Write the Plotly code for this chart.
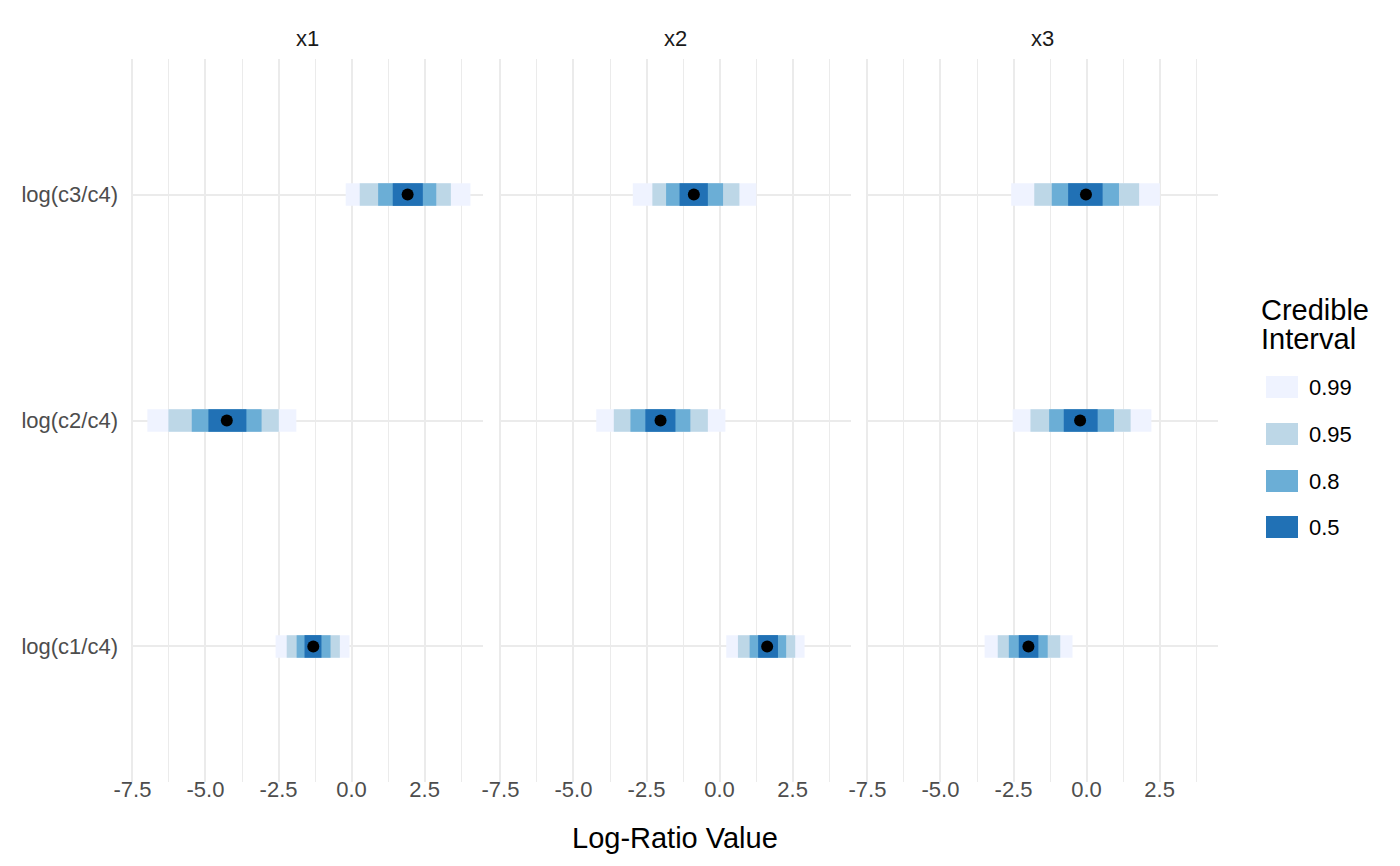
import plotly.graph_objects as go

# ---------------- data ----------------
panels = ["x1", "x2", "x3"]
categories = ["log(c1/c4)", "log(c2/c4)", "log(c3/c4)"]
levels = ["0.99", "0.95", "0.8", "0.5"]
level_colors = ["#EFF3FF", "#BDD7E7", "#6BAED6", "#2171B5"]
x_ticks = [-7.5, -5.0, -2.5, 0.0, 2.5]
x_tick_text = ["-7.5", "-5.0", "-2.5", "0.0", "2.5"]

median_x1 = [-1.31, -4.27, 1.92]
median_x2 = [1.63, -2.02, -0.88]
median_x3 = [-1.99, -0.22, -0.02]

# lower / upper bounds per level, order of categories: c1, c2, c3
lower_x1 = {"0.99": [-2.60, -6.99, -0.20], "0.95": [-2.22, -6.27, 0.28],
            "0.8": [-1.88, -5.47, 0.91], "0.5": [-1.61, -4.90, 1.41]}
upper_x1 = {"0.99": [-0.07, -1.89, 4.07], "0.95": [-0.40, -2.49, 3.40],
            "0.8": [-0.72, -3.08, 2.90], "0.5": [-1.03, -3.60, 2.44]}
lower_x2 = {"0.99": [0.23, -4.22, -2.97], "0.95": [0.63, -3.62, -2.30],
            "0.8": [1.03, -3.05, -1.83], "0.5": [1.32, -2.54, -1.37]}
upper_x2 = {"0.99": [2.91, 0.20, 1.26], "0.95": [2.59, -0.40, 0.68],
            "0.8": [2.28, -1.00, 0.12], "0.5": [2.00, -1.51, -0.40]}
lower_x3 = {"0.99": [-3.49, -2.53, -2.58], "0.95": [-3.04, -1.92, -1.79],
            "0.8": [-2.66, -1.28, -1.19], "0.5": [-2.32, -0.78, -0.63]}
upper_x3 = {"0.99": [-0.48, 2.22, 2.51], "0.95": [-0.90, 1.51, 1.80],
            "0.8": [-1.33, 0.94, 1.11], "0.5": [-1.65, 0.38, 0.55]}

medians = [median_x1, median_x2, median_x3]
lowers = [lower_x1, lower_x2, lower_x3]
uppers = [upper_x1, upper_x2, upper_x3]

# ---------------- layout helpers ----------------
W, H = 1400, 866
FONT = "Liberation Sans, Arial, Helvetica, sans-serif"
GRID = "#EBEBEB"
SMALL = 22
LARGE = 29

def px(x):
    return x / W

def py(y):
    return 1 - y / H

panel_px = [(131, 483), (499, 851), (866, 1218)]
y_top, y_bot = 59, 782
y_pos = [1, 2, 3]

fig = go.Figure()

for i, p in enumerate(panels):
    xa = "x" if i == 0 else f"x{i+1}"
    ya = "y" if i == 0 else f"y{i+1}"
    for lev, col in zip(levels, level_colors):
        lo = lowers[i][lev]
        hi = uppers[i][lev]
        fig.add_trace(go.Bar(
            x=[h - l for l, h in zip(lo, hi)], base=lo, y=y_pos,
            orientation="h", width=0.1, marker=dict(color=col, line=dict(width=0)),
            xaxis=xa, yaxis=ya, showlegend=False, name=lev,
        ))
    fig.add_trace(go.Scatter(
        x=medians[i], y=y_pos, mode="markers",
        marker=dict(color="black", size=12), xaxis=xa, yaxis=ya, showlegend=False,
    ))

layout = dict(
    width=W, height=H, margin=dict(l=0, r=0, t=0, b=0),
    paper_bgcolor="white", plot_bgcolor="white", barmode="overlay",
    font=dict(family=FONT), showlegend=False,
)

for i in range(3):
    kx = "xaxis" if i == 0 else f"xaxis{i+1}"
    ky = "yaxis" if i == 0 else f"yaxis{i+1}"
    x0, x1 = panel_px[i]
    layout[kx] = dict(
        domain=[px(x0), px(x1)], range=[-7.55, 4.5], anchor="y" if i == 0 else f"y{i+1}",
        tickvals=x_ticks, ticktext=x_tick_text, showgrid=True, gridcolor=GRID, gridwidth=2,
        zeroline=False, showline=False, ticks="",
        tickfont=dict(size=SMALL, color="#4D4D4D", family=FONT),
        minor=dict(tickvals=[-6.25, -3.75, -1.25, 1.25, 3.75], showgrid=True,
                   gridcolor=GRID, gridwidth=1),
        ticklabelstandoff=-8, automargin=False, fixedrange=True,
    )
    layout[ky] = dict(
        domain=[py(y_bot), py(y_top)], range=[0.4, 3.6],
        anchor="x" if i == 0 else f"x{i+1}",
        tickvals=y_pos, ticktext=categories if i == 0 else ["", "", ""],
        showticklabels=(i == 0), showgrid=True, gridcolor=GRID, gridwidth=2,
        zeroline=False, showline=False, ticks="",
        tickfont=dict(size=SMALL, color="#4D4D4D", family=FONT),
        ticklabelstandoff=12, automargin=False, fixedrange=True,
    )

fig.update_layout(**layout)

annotations = []
shapes = []
# strip titles
for i, p in enumerate(panels):
    x0, x1 = panel_px[i]
    annotations.append(dict(
        x=px((x0 + x1) / 2), y=py(38), xref="paper", yref="paper", text=p,
        showarrow=False, font=dict(size=SMALL, color="#1A1A1A", family=FONT),
        xanchor="center", yanchor="middle",
    ))
# axis title
annotations.append(dict(
    x=px((131 + 1218) / 2), y=py(838), xref="paper", yref="paper", text="Log-Ratio Value",
    showarrow=False, font=dict(size=LARGE, color="black", family=FONT),
    xanchor="center", yanchor="middle",
))
# legend
for txt, ty in [("Credible", 310), ("Interval", 339)]:
    annotations.append(dict(
        x=px(1259), y=py(ty), xref="paper", yref="paper", text=txt,
        showarrow=False, font=dict(size=LARGE, color="black", family=FONT),
        xanchor="left", yanchor="middle", align="left",
    ))
key_y = [387, 434, 481, 527]
for lev, col, ky in zip(levels, level_colors, key_y):
    shapes.append(dict(
        type="rect", xref="paper", yref="paper",
        x0=px(1266), x1=px(1298), y0=py(ky + 11), y1=py(ky - 11),
        fillcolor=col, line=dict(width=0),
    ))
    annotations.append(dict(
        x=px(1307), y=py(ky), xref="paper", yref="paper", text=lev,
        showarrow=False, font=dict(size=SMALL, color="black", family=FONT),
        xanchor="left", yanchor="middle",
    ))

fig.update_layout(annotations=annotations, shapes=shapes)
fig.write_html("out.html")
